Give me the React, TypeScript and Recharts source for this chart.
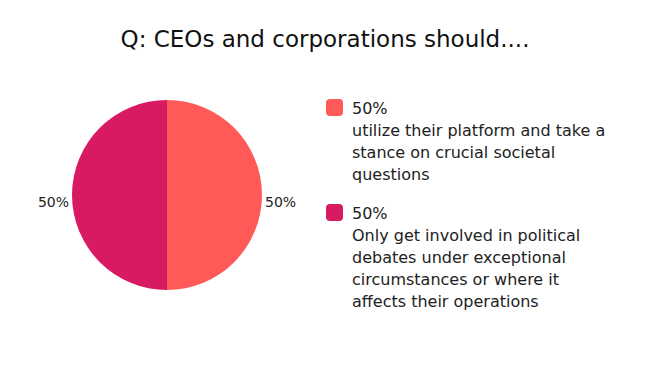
import React from "react";
import { PieChart, Pie, Cell, Legend } from "recharts";

const categories = [
  "utilize their platform and take a stance on crucial societal questions",
  "Only get involved in political debates under exceptional circumstances or where it affects their operations",
];
const legendLines = [
  ["utilize their platform and take a", "stance on crucial societal", "questions"],
  ["Only get involved in political", "debates under exceptional", "circumstances or where it", "affects their operations"],
];
const values = [50, 50];
const colors = ["#FF5A58", "#D81A62"];
const title = "Q: CEOs and corporations should....";

const data = categories.map((name, i) => ({ name, value: values[i] }));

const FONT = "'DejaVu Sans', sans-serif";

const renderLabel = (props: any) => {
  const { cx, cy, midAngle, outerRadius, percent } = props;
  const RAD = Math.PI / 180;
  const r = outerRadius + 3;
  const x = cx + r * Math.cos(-midAngle * RAD);
  const y = cy + r * Math.sin(-midAngle * RAD);
  const right = x > cx;
  return (
    <text
      x={x}
      y={y + 7}
      textAnchor={right ? "start" : "end"}
      dominantBaseline="central"
      fill="#222"
      fontSize={14}
      fontFamily={FONT}
    >
      {`${Math.round(percent * 100)}%`}
    </text>
  );
};

const LegendContent = () => (
  <div style={{ fontFamily: FONT, color: "#222", fontSize: 16 }}>
    {data.map((d, i) => (
      <div key={i} style={{ display: "flex", marginBottom: i === 0 ? 17 : 0 }}>
        <div
          style={{
            width: 17,
            height: 17,
            borderRadius: 4,
            background: colors[i],
            marginTop: 1,
            marginRight: 9,
            flexShrink: 0,
          }}
        />
        <div style={{ lineHeight: "22px" }}>
          <div>{`${d.value}%`}</div>
          {legendLines[i].map((l, j) => (
            <div key={j}>{l}</div>
          ))}
        </div>
      </div>
    ))}
  </div>
);

export default function App() {
  return (
    <div style={{ margin: -8, width: 650, height: 366, background: "#fff", position: "relative" }}>
      <div
        style={{
          position: "absolute",
          top: 26,
          left: 0,
          width: 650,
          textAlign: "center",
          fontFamily: FONT,
          fontSize: 23,
          color: "#111",
        }}
      >
        {title}
      </div>
      <PieChart width={650} height={366} margin={{ top: 0, right: 0, bottom: 0, left: 0 }}>
        <Pie
          data={data}
          dataKey="value"
          nameKey="name"
          cx={167}
          cy={195}
          outerRadius={95}
          startAngle={90}
          endAngle={-270}
          stroke="none"
          label={renderLabel}
          labelLine={false}
          isAnimationActive={false}
        >
          {data.map((d, i) => (
            <Cell key={i} fill={colors[i]} />
          ))}
        </Pie>
        <Legend
          content={<LegendContent />}
          wrapperStyle={{ position: "absolute", left: 326, top: 98, width: 320 }}
        />
      </PieChart>
    </div>
  );
}
